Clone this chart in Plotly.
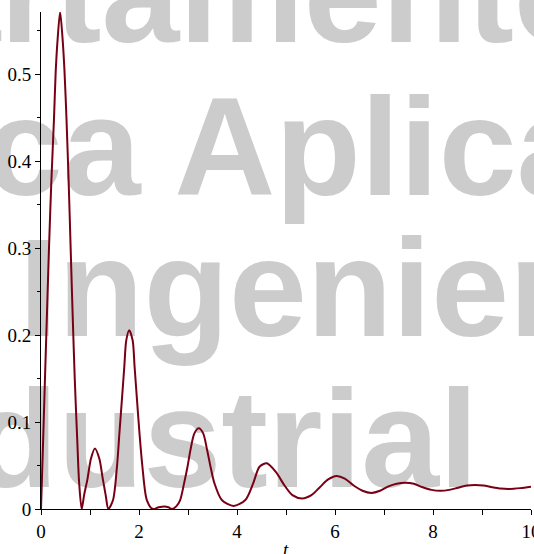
import plotly.graph_objects as go

# ---- data ----
t_values = [0.0, 0.04, 0.08, 0.122, 0.163, 0.21, 0.265, 0.30, 0.34, 0.39,
            0.44, 0.48, 0.52, 0.565, 0.605, 0.645, 0.69, 0.745, 0.775, 0.83,
            0.88, 0.95, 1.02, 1.10, 1.19, 1.26, 1.32, 1.375,
            1.47, 1.55, 1.60, 1.65, 1.70, 1.74, 1.80, 1.87, 1.91, 1.96, 2.01, 2.07, 2.16, 2.28,
            2.40, 2.52, 2.60, 2.67,
            2.76, 2.84, 2.92, 2.99, 3.05, 3.13, 3.22, 3.31, 3.39, 3.46, 3.54, 3.69, 3.93,
            4.17, 4.33, 4.46, 4.61, 4.80, 4.97, 5.13, 5.33, 5.52, 5.69, 5.86, 6.03,
            6.20, 6.38, 6.56, 6.74, 6.92, 7.09, 7.26, 7.43, 7.61, 7.79, 7.97, 8.15,
            8.33, 8.51, 8.69, 8.86, 9.03, 9.21, 9.38, 9.55, 9.78, 10.0]
y_values = [0.0, 0.072, 0.148, 0.225, 0.300, 0.375, 0.449, 0.503, 0.541, 0.5716,
            0.541, 0.503, 0.449, 0.375, 0.300, 0.225, 0.148, 0.072, 0.033, 0.0,
            0.016, 0.035, 0.058, 0.0697, 0.058, 0.035, 0.016, 0.0,
            0.0103, 0.0486, 0.087, 0.125, 0.1636, 0.194, 0.2057, 0.194, 0.1636, 0.125, 0.087, 0.0486, 0.0103, 0.0,
            0.002, 0.003, 0.002, 0.0,
            0.003, 0.0103, 0.0295, 0.0486, 0.0678, 0.087, 0.0928, 0.087, 0.0678, 0.0486, 0.0295, 0.0103, 0.0035,
            0.0103, 0.0295, 0.0486, 0.0525, 0.042, 0.027, 0.016, 0.0122, 0.016, 0.025, 0.034, 0.038,
            0.035, 0.027, 0.021, 0.0185, 0.021, 0.026, 0.029, 0.0302, 0.029, 0.025, 0.022, 0.021,
            0.022, 0.0245, 0.027, 0.0277, 0.027, 0.025, 0.0235, 0.023, 0.024, 0.0257]

x_major = [0, 2, 4, 6, 8, 10]
x_minor = [1, 3, 5, 7, 9]
y_major = [0, 0.1, 0.2, 0.3, 0.4, 0.5]
y_major_text = ["0", "0.1", "0.2", "0.3", "0.4", "0.5"]
y_minor = [0.05, 0.15, 0.25, 0.35, 0.45, 0.55]
x_title = "t"

watermark_lines = ["Departamento", "Matemática Aplicada", "Ingeniería", "Industrial"]

W, H = 534, 554
ML, MR, MT, MB = 41, 3, 12, 45
PW, PH = W - ML - MR, H - MT - MB

def px2paper_x(px):
    return (px - ML) / PW

def px2paper_y(py):
    return (H - MB - py) / PH

fig = go.Figure()
fig.add_trace(go.Scatter(
    x=t_values, y=y_values, mode="lines",
    line=dict(color="#780014", width=2, shape="spline", smoothing=0.8),
    hoverinfo="skip", showlegend=False))

# watermark: (left pixel of text, baseline pixel)
WM_SIZE = 140
wm_pos = [(-345, 45), (-625, 198), (16, 339), (-155, 490)]
shapes = []
for txt, (lx, base) in zip(watermark_lines, wm_pos):
    mid = base - 0.46 * WM_SIZE
    shapes.append(dict(
        type="rect", xref="paper", yref="paper",
        x0=px2paper_x(lx), x1=px2paper_x(lx + 2),
        y0=px2paper_y(mid + 1), y1=px2paper_y(mid - 1),
        line=dict(width=0), fillcolor="rgba(0,0,0,0)", layer="below",
        label=dict(text=txt, textposition="middle left", padding=0,
                   font=dict(family="Liberation Sans", size=WM_SIZE,
                             color="#cccccc", weight="bold"))))

tick_font = dict(family="Liberation Serif", size=19, color="black")
fig.update_layout(
    width=W, height=H,
    margin=dict(l=ML, r=MR, t=MT, b=MB, pad=0, autoexpand=False),
    paper_bgcolor="white", plot_bgcolor="rgba(0,0,0,0)",
    shapes=shapes,
    annotations=[dict(text="<i>" + x_title + "</i>", xref="paper", yref="paper",
                      x=0.5, y=px2paper_y(549), xanchor="center", yanchor="middle",
                      showarrow=False,
                      font=dict(family="Liberation Serif", size=19, color="black"))],
    xaxis=dict(range=[0, 10], showgrid=False, zeroline=False, automargin=False,
               showline=True, linecolor="black", linewidth=1,
               ticks="outside", ticklen=5, tickcolor="black", tickwidth=1,
               tickvals=x_major, tickfont=tick_font, ticklabeloverflow="allow",
               minor=dict(tickvals=x_minor, ticks="outside", ticklen=5,
                          tickcolor="black", tickwidth=1)),
    yaxis=dict(range=[0, 0.5716], showgrid=False, zeroline=False, automargin=False,
               showline=True, linecolor="black", linewidth=1,
               ticks="outside", ticklen=5, tickcolor="black", tickwidth=1,
               tickvals=y_major, ticktext=y_major_text, tickfont=tick_font,
               ticklabeloverflow="allow",
               minor=dict(tickvals=y_minor, ticks="outside", ticklen=3,
                          tickcolor="black", tickwidth=1)),
)

fig.write_html("out.html", config={"displayModeBar": False},
               post_script="document.body.style.margin='0';document.body.style.overflow='hidden';")
